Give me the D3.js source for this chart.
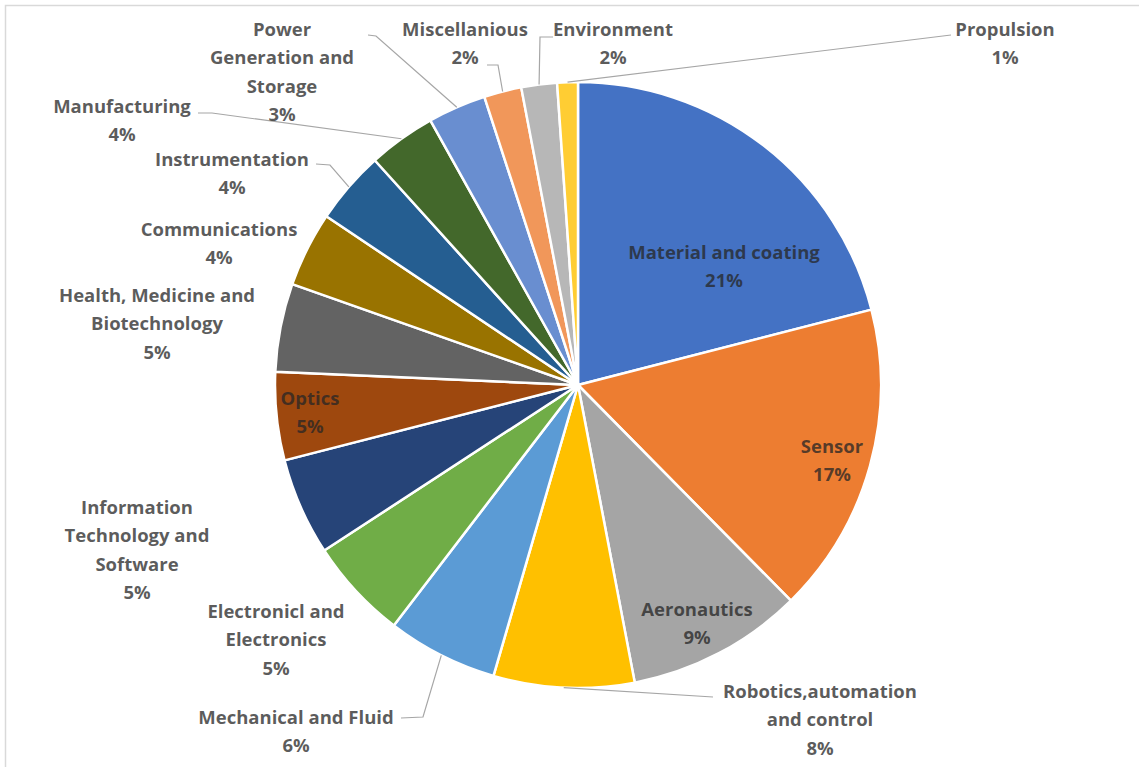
<!DOCTYPE html>
<html>
<head>
<meta charset="utf-8">
<script src="https://cdn.jsdelivr.net/npm/d3@7"></script>
<style>
  html, body { margin: 0; padding: 0; background: #ffffff; }
  svg { display: block; }
</style>
</head>
<body>
<svg id="chart" width="1139" height="767"></svg>
<script>
// Share of projects by technology field (percent)
const categories = [
  "Material and coating", "Sensor", "Aeronautics", "Robotics,automation and control",
  "Mechanical and Fluid", "Electronicl and Electronics", "Information Technology and Software",
  "Optics", "Health, Medicine and Biotechnology", "Communications", "Instrumentation",
  "Manufacturing", "Power Generation and Storage", "Miscellanious", "Environment", "Propulsion"
];
const shares = [21.0, 16.6, 9.4, 7.5, 5.9, 5.4, 5.2, 4.7, 4.7, 4.0, 3.9, 3.6, 3.1, 2.0, 1.9, 1.1];
const colors = [
  "#4472C4", "#ED7D31", "#A5A5A5", "#FFC000", "#5B9BD5", "#70AD47", "#264478", "#9E480E",
  "#636363", "#997300", "#255E91", "#43682B", "#698ED0", "#F1975A", "#B7B7B7", "#FFCD33"
];
// label text broken into lines (the percentage line is appended)
const labelLines = [
  ["Material and coating"], ["Sensor"], ["Aeronautics"], ["Robotics,automation", "and control"],
  ["Mechanical and Fluid"], ["Electronicl and", "Electronics"], ["Information", "Technology and", "Software"],
  ["Optics"], ["Health, Medicine and", "Biotechnology"], ["Communications"], ["Instrumentation"],
  ["Manufacturing"], ["Power", "Generation and", "Storage"], ["Miscellanious"], ["Environment"], ["Propulsion"]
];
// label anchor (centre of first line) and leader routes
const labelPos = [
  [724, 251], [832, 445], [697, 608], [820, 690],
  [296, 716], [276, 610], [137, 506],
  [310, 397], [157, 294], [219, 228], [232, 158],
  [122, 105], [282, 28], [465, 28], [613, 28], [1005, 28]
];
const leaders = {
  3: [[713, 697]],
  4: [[423, 717], [401, 718]],
  10: [[330, 165], [316, 164]],
  11: [[212, 113], [198, 113]],
  12: [[376, 36], [368, 35]],
  13: [[498, 65], [487, 65]],
  14: [[540, 37], [553, 37]],
  15: [[951, 35]]
};

const svg = d3.select("#chart");
const W = 1139, H = 767;
const cx = 578, cy = 385, R = 303;

// frame
svg.append("rect")
  .attr("x", 5.5).attr("y", 5.5)
  .attr("width", W + 10).attr("height", H + 10)
  .attr("fill", "#ffffff")
  .attr("stroke", "#d9d9d9").attr("stroke-width", 1.5);

const pie = d3.pie().sort(null).value(d => d)(shares);
const arc = d3.arc().innerRadius(0).outerRadius(R);

const g = svg.append("g").attr("transform", `translate(${cx},${cy})`);
g.selectAll("path.slice")
  .data(pie)
  .join("path")
  .attr("class", "slice")
  .attr("d", arc)
  .attr("fill", (d, i) => colors[i])
  .attr("stroke", "#ffffff")
  .attr("stroke-width", 2.5)
  .attr("stroke-linejoin", "round");

// leader lines from the slice rim to the labels
const rimArc = d3.arc().innerRadius(R).outerRadius(R);
Object.keys(leaders).forEach(k => {
  const i = +k;
  const [px, py] = rimArc.centroid(pie[i]);
  const pts = [[cx + px, cy + py]].concat(leaders[k]);
  svg.append("path")
    .attr("d", d3.line()(pts))
    .attr("fill", "none")
    .attr("stroke", "#a6a6a6")
    .attr("stroke-width", 1.2);
});

// data labels
const lh = 28.5;
categories.forEach((c, i) => {
  const lines = labelLines[i].concat([Math.round(shares[i]) + "%"]);
  const t = svg.append("text")
    .attr("x", labelPos[i][0]).attr("y", labelPos[i][1])
    .attr("text-anchor", "middle")
    .attr("font-family", "'Open Sans', Lato, sans-serif")
    .attr("font-weight", 700)
    .attr("font-size", 18.5)
    .attr("fill", "#262626")
    .attr("fill-opacity", 0.75);
  lines.forEach((ln, j) => {
    t.append("tspan")
      .attr("x", labelPos[i][0])
      .attr("y", labelPos[i][1] + j * lh)
      .attr("dominant-baseline", "central")
      .text(ln);
  });
});
</script>
</body>
</html>
